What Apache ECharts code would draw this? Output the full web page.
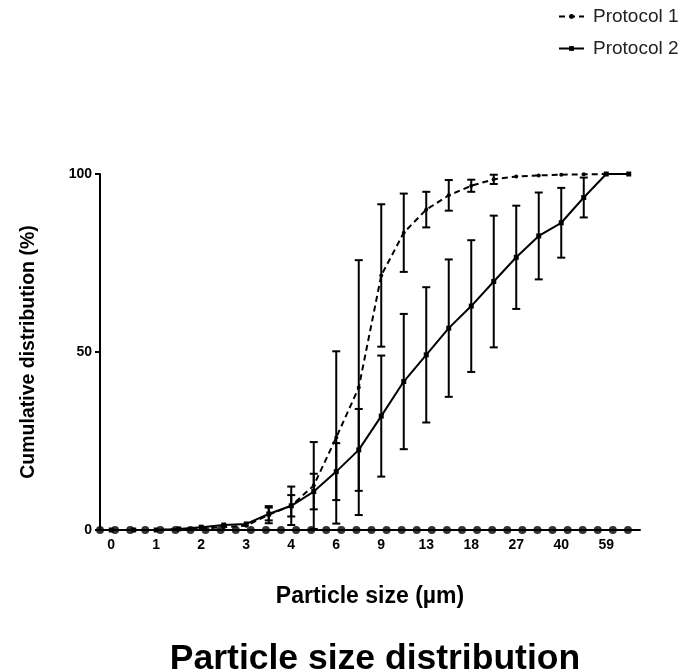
<!DOCTYPE html>
<html>
<head>
<meta charset="utf-8">
<script src="https://cdn.jsdelivr.net/npm/echarts@6/dist/echarts.min.js"></script>
<style>
  html, body { margin: 0; padding: 0; background: #fff; }
  #chart { width: 685px; height: 672px; }
</style>
</head>
<body>
<div id="chart"></div>
<script>
// size bins (every other one labelled)
var sizeLabels = ['0', '', '1', '', '2', '', '3', '', '4', '', '6', '', '9', '', '13', '', '18', '', '27', '', '40', '', '59', ''];

// Protocol 1 (dashed), mean and +/- spread
var protocol1 = [0, 0, 0, 0.2, 0.4, 0.8, 1.2, 4.3, 6.8, 12.5, 26, 40, 71.5, 83.5, 90, 94, 96.7, 98.5, 99.3, 99.6, 99.8, 99.9, 100, 100];
var protocol1Err = [0, 0, 0, 0, 0, 0, 0, 2.4, 5.4, 12.2, 24.2, 35.8, 20, 11, 5, 4.3, 1.7, 1.3, 0, 0, 0, 0, 0, 0];

// Protocol 2 (solid)
var protocol2 = [0, 0, 0, 0.3, 0.8, 1.4, 1.7, 4.5, 6.8, 10.8, 16.4, 22.5, 32, 41.7, 49.2, 56.7, 62.9, 69.8, 76.6, 82.6, 86.3, 93.4, 100, 100];
var protocol2Err = [0, 0, 0, 0, 0, 0, 0, 1.8, 3, 5, 8, 11.5, 17, 19, 19, 19.3, 18.5, 18.5, 14.5, 12.2, 9.8, 5.6, 0, 0];

// row of points lying on the x axis
var baseline = [0, 0, 0, 0, 0, 0, 0, 0, 0, 0, 0, 0, 0, 0, 0, 0, 0, 0, 0, 0, 0, 0, 0, 0, 0, 0, 0, 0, 0, 0, 0, 0, 0, 0, 0, 0];

var yTicks = [0, 50, 100];

var font = '"Liberation Sans", Arial, Helvetica, sans-serif';

function barData(vals, errs) {
  var out = [];
  for (var i = 0; i < vals.length; i++) {
    if (errs[i] > 0) out.push([i, vals[i] - errs[i], vals[i] + errs[i]]);
  }
  return out;
}

function renderBar(params, api) {
  var x = api.value(0);
  var lo = api.coord([x, api.value(1)]);
  var hi = api.coord([x, api.value(2)]);
  var w = 4;
  var st = { stroke: '#000', lineWidth: 2 };
  return {
    type: 'group',
    children: [
      { type: 'line', shape: { x1: lo[0], y1: lo[1], x2: hi[0], y2: hi[1] }, style: st },
      { type: 'line', shape: { x1: lo[0] - w, y1: lo[1], x2: lo[0] + w, y2: lo[1] }, style: st },
      { type: 'line', shape: { x1: hi[0] - w, y1: hi[1], x2: hi[0] + w, y2: hi[1] }, style: st }
    ]
  };
}

var myChart = echarts.init(document.getElementById('chart'));
myChart.setOption({
  animation: false,
  textStyle: { fontFamily: font },
  title: {
    text: 'Particle size distribution',
    left: 370,
    top: 636,
    textAlign: 'center',
    textStyle: { fontFamily: font, fontSize: 35.5, fontWeight: 'bold', color: '#000' }
  },
  legend: {
    data: ['Protocol 1', 'Protocol 2'],
    orient: 'vertical',
    left: 553,
    top: 2,
    itemWidth: 25,
    itemHeight: 6,
    itemGap: 13,
    textStyle: { fontFamily: font, fontSize: 19, color: '#222', padding: [0, 0, 0, 4] }
  },
  grid: { left: 100, right: 45, top: 174, bottom: 142, containLabel: false },
  xAxis: [
    {
      type: 'category',
      data: sizeLabels,
      boundaryGap: true,
      name: 'Particle size (µm)',
      nameLocation: 'middle',
      nameGap: 55,
      nameTextStyle: { fontFamily: font, fontSize: 23, fontWeight: 'bold', color: '#000' },
      axisLine: { lineStyle: { color: '#000', width: 2 } },
      axisTick: {
        alignWithLabel: true,
        length: 4,
        interval: function (idx) { return idx % 2 === 0; },
        lineStyle: { color: '#000', width: 2 }
      },
      axisLabel: { interval: 0, margin: 8, fontSize: 14, fontWeight: 'bold', color: '#000' },
      splitLine: { show: false }
    },
    { type: 'value', min: 0, max: 35.8, show: false }
  ],
  yAxis: {
    type: 'value',
    min: 0,
    max: 100,
    interval: 50,
    name: 'Cumulative distribution (%)',
    nameLocation: 'middle',
    nameGap: 61,
    nameTextStyle: { fontFamily: font, fontSize: 19.5, fontWeight: 'bold', color: '#000' },
    axisLine: { show: true, lineStyle: { color: '#000', width: 2 } },
    axisTick: { show: true, length: 5, lineStyle: { color: '#000', width: 2 } },
    axisLabel: {
      margin: 8, fontSize: 14, fontWeight: 'bold', color: '#000',
      formatter: function (v) { return yTicks.indexOf(v) >= 0 ? String(v) : ''; }
    },
    splitLine: { show: false }
  },
  series: [
    {
      name: 'Protocol 1',
      type: 'line',
      data: protocol1,
      clip: false,
      symbol: 'circle',
      symbolSize: 4,
      itemStyle: { color: '#000' },
      lineStyle: { color: '#000', width: 2, type: [6, 4] },
      z: 3
    },
    {
      name: 'Protocol 2',
      type: 'line',
      data: protocol2,
      clip: false,
      symbol: 'rect',
      symbolSize: 5,
      itemStyle: { color: '#000' },
      lineStyle: { color: '#000', width: 2 },
      z: 3
    },
    {
      name: 'P1 spread',
      type: 'custom',
      data: barData(protocol1, protocol1Err),
      renderItem: renderBar,
      encode: { x: 0, y: [1, 2] },
      clip: false,
      z: 2
    },
    {
      name: 'P2 spread',
      type: 'custom',
      data: barData(protocol2, protocol2Err),
      renderItem: renderBar,
      encode: { x: 0, y: [1, 2] },
      clip: false,
      z: 2
    },
    {
      name: 'baseline',
      type: 'scatter',
      xAxisIndex: 1,
      data: baseline.map(function (v, k) { return [k, v]; }),
      symbol: 'circle',
      symbolSize: 8,
      itemStyle: { color: '#000' },
      clip: false,
      z: 4
    }
  ]
});
</script>
</body>
</html>
